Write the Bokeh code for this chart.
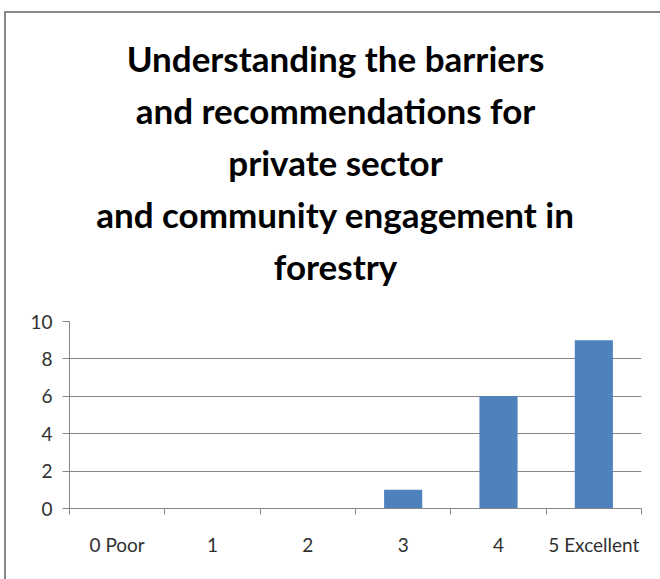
from bokeh.plotting import figure
from bokeh.layouts import column
from bokeh.models import ColumnDataSource, FixedTicker, Range1d
from bokeh.core.properties import value
from bokeh.embed import file_html
from bokeh.resources import INLINE

# Ratings and how many responses each one received
categories = ["0 Poor", "1", "2", "3", "4", "5 Excellent"]
counts = [0, 0, 0, 1, 6, 9]
y_ticks = [0, 2, 4, 6, 8, 10]
title_lines = [
    "Understanding the barriers",
    "and recommendations for",
    "private sector",
    "and community engagement in",
    "forestry",
]

BAR_COLOR = "#4F81BD"
GRID_COLOR = "#868686"
TEXT_COLOR = "#303030"
FONT = "Lato"
WIDTH = 654
BORDER_L, BORDER_R = 63, 19

# --- heading panel: one text line per row, centred across the full width ---
HEAD_H = 296
LINE_Y0 = 44
LINE_STEP = 52
head = figure(
    width=WIDTH, height=HEAD_H,
    # x measured in canvas pixels, so the heading can be centred on the whole chart
    x_range=Range1d(BORDER_L, WIDTH - BORDER_R), y_range=Range1d(HEAD_H, 0),
    output_backend="svg", toolbar_location=None,
    min_border_left=BORDER_L, min_border_right=BORDER_R,
    min_border_top=0, min_border_bottom=0, outline_line_color=None,
)
head.axis.visible = False
head.grid.visible = False
head_src = ColumnDataSource(data=dict(
    x=[WIDTH / 2 + 2] * len(title_lines),
    y=[LINE_Y0 + i * LINE_STEP for i in range(len(title_lines))],
    text=title_lines,
))
head.text(x="x", y="y", text="text", source=head_src,
          text_align="center", text_baseline="middle",
          text_font=value(FONT), text_font_style="bold", text_font_size="35px",
          text_color="black")

# --- bar chart ---
positions = [i + 0.5 for i in range(len(categories))]
source = ColumnDataSource(data=dict(x=positions, top=counts, label=categories))

p = figure(
    width=WIDTH, height=566 - HEAD_H,
    x_range=Range1d(0, len(categories)), y_range=Range1d(0, 10),
    output_backend="svg", toolbar_location=None,
    min_border_left=BORDER_L, min_border_right=BORDER_R,
    min_border_bottom=71, min_border_top=12,
)
p.vbar(x="x", top="top", width=0.4, source=source, fill_color=BAR_COLOR, line_color=None)

# Category axis: labels at bar centres, tick marks on category boundaries
xa = p.xaxis[0]
xa.ticker = FixedTicker(ticks=positions, minor_ticks=list(range(len(categories) + 1)))
xa.major_label_overrides = {pos: lab for pos, lab in zip(positions, categories)}
xa.major_tick_out = 0
xa.major_tick_in = 0
xa.minor_tick_out = 6
xa.minor_tick_in = 0
xa.minor_tick_line_color = GRID_COLOR
xa.axis_line_color = GRID_COLOR
xa.major_label_standoff = 18
xa.major_label_text_font = FONT
xa.major_label_text_font_size = "19px"
xa.major_label_text_color = TEXT_COLOR

ya = p.yaxis[0]
ya.ticker = FixedTicker(ticks=y_ticks)
ya.major_tick_out = 7
ya.major_tick_in = 0
ya.minor_tick_line_color = None
ya.major_tick_line_color = GRID_COLOR
ya.axis_line_color = GRID_COLOR
ya.major_label_standoff = 10
ya.major_label_text_font = FONT
ya.major_label_text_font_size = "19px"
ya.major_label_text_color = TEXT_COLOR

p.xgrid.grid_line_color = None
p.ygrid.grid_line_color = GRID_COLOR
p.ygrid.ticker = FixedTicker(ticks=y_ticks)
p.outline_line_color = None

layout = column(head, p, spacing=0)
layout.margin = (11, 0, 0, 4)
layout.styles = {"border-top": "2px solid #878787", "border-left": "2px solid #878787"}

open("out.html", "w").write(file_html(layout, INLINE))
